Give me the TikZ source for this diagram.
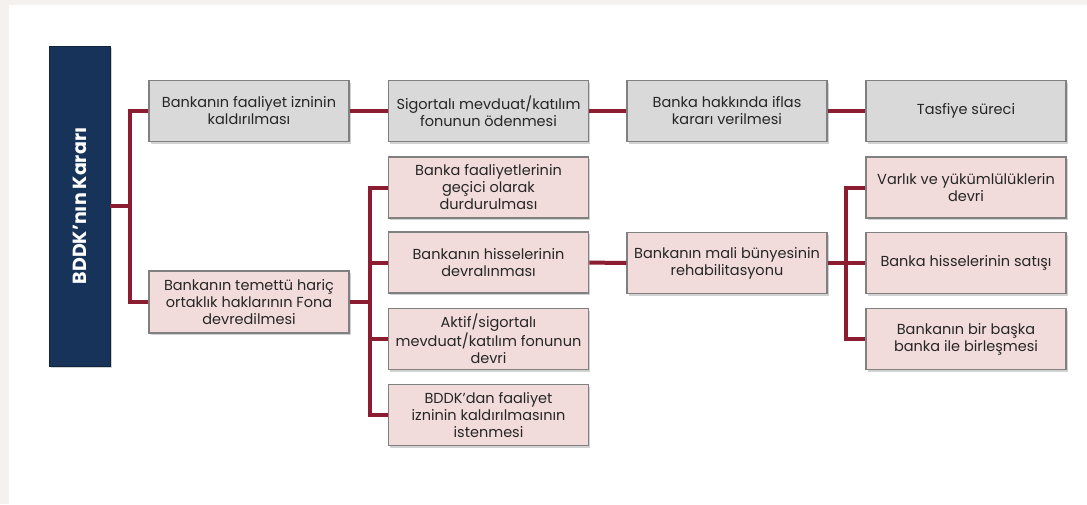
\documentclass[tikz,border=0pt]{standalone}
\usepackage{fontspec}
\setmainfont{Poppins}
\usepackage{xcolor}
\usepackage{tikz}
\usetikzlibrary{shadows}
\definecolor{bddknavy}{RGB}{23,51,89}
\definecolor{linkred}{RGB}{140,28,48}
\definecolor{boxgray}{RGB}{217,217,217}
\definecolor{boxpink}{RGB}{242,220,219}
\definecolor{boxedge}{RGB}{128,128,128}
\definecolor{textdark}{RGB}{38,38,38}
\definecolor{pagegray}{RGB}{244,241,238}

\tikzset{
  stepbox/.style={rectangle, draw=boxedge, line width=1.5pt, minimum width=200pt,
    minimum height=61pt, align=center, font=\fontsize{14.5}{17}\selectfont,
    text=textdark, inner sep=1pt,
    drop shadow={shadow xshift=1.5pt, shadow yshift=-2pt, opacity=0.35}},
  graybox/.style={stepbox, fill=boxgray},
  pinkbox/.style={stepbox, fill=boxpink},
  link/.style={linkred, line width=4pt}
}

\begin{document}
\begin{tikzpicture}[x=1pt, y=-1pt]
  % page and panel
  \fill[pagegray] (0,0) rectangle (1087,504);
  \fill[white] (9,5) rectangle (1087,504);
  \useasboundingbox (0,0) rectangle (1087,504);

  % decision
  \node[rectangle, fill=bddknavy, draw=bddknavy!70!black, minimum width=61pt, minimum height=320pt,
    drop shadow={shadow xshift=1.5pt, shadow yshift=-2pt, opacity=0.35}] (bddk) at (79.5,206)
    {\rotatebox{90}{\textcolor{white}{\bfseries\fontsize{19}{22}\selectfont BDDK'nın Kararı}}};

  % upper row
  \node[graybox] (izin) at (249,111) {Bankanın faaliyet izninin\\kaldırılması};
  \node[graybox] (odeme) at (488.5,111) {Sigortalı mevduat/katılım\\fonunun ödenmesi};
  \node[graybox] (iflas) at (727,111) {Banka hakkında iflas\\kararı verilmesi};
  \node[graybox] (tasfiye) at (966,111) {Tasfiye süreci};

  % fund branch
  \node[pinkbox, minimum height=62pt] (fona) at (249,302) {Bankanın temettü hariç\\ortaklık haklarının Fona\\devredilmesi};
  \node[pinkbox] (durdur) at (488.5,187.5) {Banka faaliyetlerinin\\geçici olarak\\durdurulması};
  \node[pinkbox] (hisse) at (488.5,262.5) {Bankanın hisselerinin\\devralınması};
  \node[pinkbox] (aktif) at (488.5,339) {Aktif/sigortalı\\mevduat/katılım fonunun\\devri};
  \node[pinkbox] (istem) at (488.5,415) {BDDK'dan faaliyet\\izninin kaldırılmasının\\istenmesi};
  \node[pinkbox] (mali) at (727,263) {Bankanın mali bünyesinin\\rehabilitasyonu};
  \node[pinkbox] (varlik) at (966,187.5) {Varlık ve yükümlülüklerin\\devri};
  \node[pinkbox] (satis) at (966,263) {Banka hisselerinin satışı};
  \node[pinkbox] (birles) at (966,339) {Bankanın bir başka\\banka ile birleşmesi};

  % junctions
  \coordinate (j1) at (130,206);
  \coordinate (j2) at (370,302);
  \coordinate (j3) at (846,263);

  % connectors
  \draw[link] (bddk.east) -- (j1);
  \draw[link] (izin.west) -| (j1) |- (fona.west);
  \draw[link] (izin) -- (odeme);
  \draw[link] (odeme) -- (iflas);
  \draw[link] (iflas) -- (tasfiye);
  \draw[link] (fona.east) -- (j2);
  \draw[link] (durdur.west) -| (j2) |- (istem.west);
  \draw[link] (hisse.west) -- (hisse.west -| j2);
  \draw[link] (aktif.west) -- (aktif.west -| j2);
  \draw[link] (hisse) -- (mali);
  \draw[link] (mali.east) -- (j3);
  \draw[link] (varlik.west) -| (j3) |- (birles.west);
  \draw[link] (satis.west) -- (j3);
\end{tikzpicture}
\end{document}
